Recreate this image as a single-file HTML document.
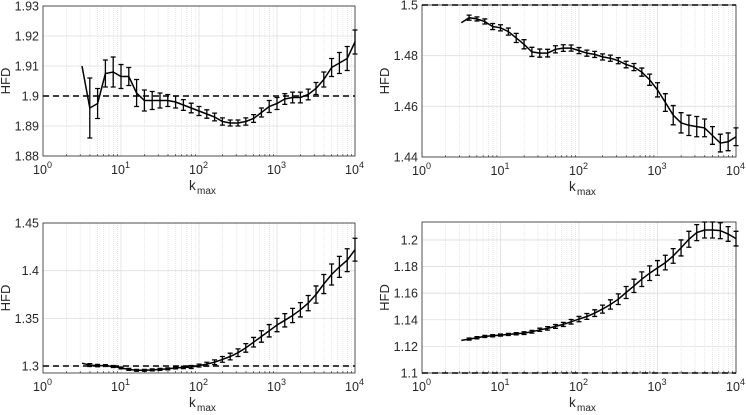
<!DOCTYPE html>
<html><head><meta charset="utf-8"><style>
body{margin:0;background:#fff;}
svg{display:block;font-family:"Liberation Sans",sans-serif;}
</style></head><body>
<svg id="fig" width="746" height="415" viewBox="0 0 746 415"></svg>
<script>
const logK = [0.5,0.6,0.7,0.8,0.9,1.0,1.1,1.2,1.3,1.4,1.5,1.6,1.7,1.8,1.9,2.0,2.1,2.2,2.3,2.4,2.5,2.6,2.7,2.8,2.9,3.0,3.1,3.2,3.3,3.4,3.5,3.6,3.7,3.8,3.9,4.0];
const xTicks = ["10^0","10^1","10^2","10^3","10^4"];
const p1Vals = [1.910,1.896,1.8975,1.9075,1.908,1.9065,1.9065,1.901,1.8985,1.8985,1.8985,1.8985,1.898,1.897,1.896,1.895,1.894,1.893,1.8915,1.891,1.891,1.8915,1.8925,1.8945,1.8965,1.8975,1.899,1.8995,1.8995,1.9005,1.9025,1.9055,1.9095,1.911,1.9125,1.918];
const p1Errs = [0,0.010,0.005,0.0045,0.005,0.004,0.003,0.0045,0.0035,0.003,0.0025,0.002,0.002,0.0018,0.0016,0.0015,0.0014,0.0013,0.0012,0.001,0.001,0.0012,0.0013,0.0015,0.002,0.002,0.0018,0.0018,0.0018,0.0018,0.002,0.0025,0.003,0.0035,0.004,0.004];
const p1Ticks = [1.88,1.89,1.9,1.91,1.92,1.93];
const p2Vals = [1.493,1.495,1.4945,1.4935,1.4915,1.491,1.4895,1.487,1.4845,1.4815,1.481,1.481,1.4825,1.483,1.483,1.482,1.481,1.4805,1.4795,1.479,1.478,1.4765,1.4755,1.4735,1.4705,1.4665,1.4615,1.4565,1.4535,1.4525,1.452,1.4515,1.4485,1.4455,1.446,1.448];
const p2Errs = [0,0.001,0.0008,0.001,0.0012,0.0012,0.0014,0.0018,0.0018,0.0018,0.0016,0.0015,0.0014,0.0013,0.0012,0.0012,0.0012,0.0012,0.0012,0.0012,0.0012,0.0013,0.0014,0.0016,0.0022,0.0028,0.0035,0.0038,0.004,0.004,0.004,0.0035,0.0035,0.0035,0.0035,0.0035];
const p2Ticks = [1.44,1.46,1.48,1.5];
const p3Vals = [1.303,1.301,1.3005,1.3005,1.2995,1.298,1.2965,1.2955,1.2955,1.296,1.2965,1.297,1.298,1.2985,1.299,1.3005,1.302,1.304,1.307,1.310,1.314,1.319,1.325,1.331,1.337,1.343,1.348,1.353,1.359,1.366,1.375,1.386,1.396,1.404,1.411,1.422];
const p3Errs = [0,0.0015,0.0012,0.001,0.001,0.001,0.001,0.001,0.001,0.001,0.001,0.001,0.001,0.0012,0.0015,0.0015,0.002,0.0025,0.003,0.0035,0.004,0.0045,0.005,0.006,0.0065,0.007,0.007,0.0075,0.0075,0.008,0.009,0.01,0.011,0.011,0.012,0.012];
const p3Ticks = [1.3,1.35,1.4,1.45];
const p4Vals = [1.1245,1.1255,1.1265,1.1275,1.128,1.1285,1.129,1.1295,1.130,1.131,1.1325,1.1335,1.135,1.1365,1.1385,1.1405,1.1425,1.145,1.148,1.1515,1.1555,1.1605,1.1655,1.1705,1.175,1.179,1.183,1.188,1.194,1.2005,1.2055,1.2075,1.2075,1.207,1.2045,1.201];
const p4Errs = [0,0.0008,0.0008,0.0008,0.0008,0.0008,0.0008,0.0008,0.001,0.001,0.0012,0.0013,0.0014,0.0015,0.0017,0.002,0.0022,0.0025,0.003,0.0035,0.004,0.0045,0.005,0.0055,0.0055,0.0055,0.0055,0.0055,0.006,0.006,0.006,0.006,0.006,0.006,0.0055,0.0055];
const p4Ticks = [1.1,1.12,1.14,1.16,1.18,1.2];
const refLines = [1.9,1.5,1.3,1.1];

const NS="http://www.w3.org/2000/svg";
const svg=document.getElementById('fig');
function mk(tag,attrs,parent){const e=document.createElementNS(NS,tag);for(const k in attrs)e.setAttribute(k,attrs[k]);(parent||svg).appendChild(e);return e;}

const panels=[
 {L:43,R:355,T:6,B:156,ymin:1.88,ymax:1.93,vals:p1Vals,errs:p1Errs,ticks:p1Ticks,ref:refLines[0],name:'panel-top-left'},
 {L:422,R:736,T:5,B:157,ymin:1.44,ymax:1.5,vals:p2Vals,errs:p2Errs,ticks:p2Ticks,ref:refLines[1],name:'panel-top-right'},
 {L:43,R:355,T:223,B:373,ymin:1.2927,ymax:1.45,vals:p3Vals,errs:p3Errs,ticks:p3Ticks,ref:refLines[2],name:'panel-bottom-left'},
 {L:422,R:736,T:222,B:373,ymin:1.1,ymax:1.2135,vals:p4Vals,errs:p4Errs,ticks:p4Ticks,ref:refLines[3],name:'panel-bottom-right'}
];

panels.forEach(p=>{
 const g=mk('g',{});
 
 
 const xs=lk=>p.L+(lk/4)*(p.R-p.L);
 const ys=v=>p.B-(v-p.ymin)/(p.ymax-p.ymin)*(p.B-p.T);
 for(let d=0;d<4;d++)for(let m=2;m<=9;m++){const x=xs(d+Math.log10(m));
  const l=mk('line',{x1:x,x2:x,y1:p.T,y2:p.B,stroke:'#dcdcdc','stroke-width':0.7,'stroke-dasharray':'1,1'},g);
  }
 for(let d=1;d<4;d++){const x=xs(d);const l=mk('line',{x1:x,x2:x,y1:p.T,y2:p.B,stroke:'#dedede','stroke-width':0.8},g);
  }
 p.ticks.forEach(t=>{const y=ys(t);
  const l=mk('line',{x1:p.L,x2:p.R,y1:y,y2:y,stroke:'#dedede','stroke-width':0.8},g);
  
  const tx=mk('text',{x:p.L-4,y:y+4.5,'text-anchor':'end','font-size':12.5,fill:'#262626'},g);
  tx.textContent=String(t);
  });
 xTicks.forEach((t,i)=>{const x=xs(i);
  const tx=mk('text',{x:x-3,y:p.B+18,'text-anchor':'middle','font-size':12.5,fill:'#262626'},g);
  tx.textContent='10';
  
  const sup=mk('text',{x:x+4,y:p.B+12,'font-size':9,fill:'#262626'},g);
  sup.textContent=t.split('^')[1];
  
  for(let m=2;m<=9&&i<4;m++){const xm=xs(i+Math.log10(m));mk('line',{x1:xm,x2:xm,y1:p.B,y2:p.B-2,stroke:'#262626','stroke-width':0.6},g);}
 });
 const box=mk('rect',{x:p.L,y:p.T,width:p.R-p.L,height:p.B-p.T,fill:'none',stroke:'#262626','stroke-width':0.8},g);
 
 const ry=ys(p.ref);
 const rl=mk('line',{x1:p.L,x2:p.R,y1:ry,y2:ry,stroke:'#000','stroke-width':1.5,'stroke-dasharray':'6,4'},g);
 
 const pts=logK.map((lk,i)=>xs(lk).toFixed(1)+','+ys(p.vals[i]).toFixed(1)).join(' ');
 const pl=mk('polyline',{points:pts,fill:'none',stroke:'#000','stroke-width':1.5},g);
 
 logK.forEach((lk,i)=>{if(p.errs[i]<=0)return;const x=xs(lk),y1=ys(p.vals[i]-p.errs[i]),y2=ys(p.vals[i]+p.errs[i]);
  const e=mk('path',{d:`M${x},${y1}V${y2}M${x-2.5},${y1}H${x+2.5}M${x-2.5},${y2}H${x+2.5}`,stroke:'#000','stroke-width':1.3,fill:'none'},g);
  });
 const yl=mk('text',{x:0,y:0,'font-size':13,fill:'#262626','text-anchor':'middle',transform:`translate(${p.L-33},${(p.T+p.B)/2}) rotate(-90)`},g);
 yl.textContent='HFD';
 const xl=mk('text',{x:(p.L+p.R)/2-10,y:p.B+34,'font-size':13.5,fill:'#262626'},g);
 xl.textContent='k';
 const xs2=mk('text',{x:(p.L+p.R)/2-2,y:p.B+38,'font-size':10,fill:'#262626'},g);
 xs2.textContent='max';
});
</script>
</body></html>
